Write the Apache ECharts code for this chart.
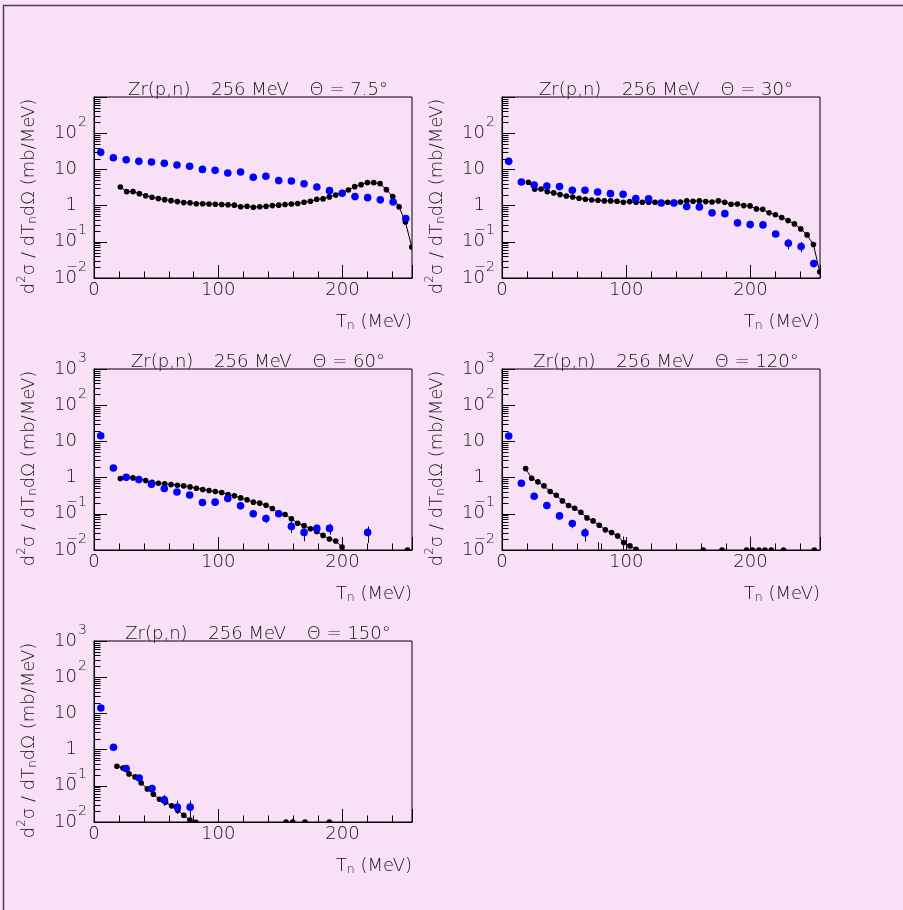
<!DOCTYPE html>
<html><head><meta charset="utf-8">
<script src="https://cdn.jsdelivr.net/npm/echarts@6/dist/echarts.min.js"></script>
<style>html,body{margin:0;padding:0;background:#f8e1f7}#c{width:903px;height:910px}</style>
</head><body><div id="c"></div>
<script>
// ---------------- DATA ----------------
const reaction = 'Zr(p,n)';
const beam = '256 MeV';
const angles = ['7.5', '30', '60', '120', '150'];
const xMajorTicks = [0, 100, 200];
const xMinorTicks = [20, 40, 60, 80, 120, 140, 160, 180, 220, 240];
const yMinorMultipliers = [2, 3, 4, 5, 6, 7, 8, 9];

// calculation grid (T_n, MeV) used at 7.5, 30, 60 deg
const tCalc = [21.2, 26.3, 31.4, 36.5, 41.6, 46.7, 51.8, 56.9, 62.0, 67.1, 72.2, 77.3, 82.4, 87.5, 92.6, 97.7,
  102.8, 107.9, 113.0, 118.1, 123.2, 128.3, 133.4, 138.5, 143.6, 148.7, 153.8, 158.9, 164.0, 169.1, 174.2,
  179.3, 184.4, 189.5, 194.6, 199.7, 204.8, 209.9, 215.0, 220.1, 225.2, 230.3, 235.4, 240.5, 245.6, 250.7, 255.8];
// experiment grid (T_n, MeV)
const tExp = [5.4, 15.6, 25.9, 36.1, 46.3, 56.6, 66.8, 77.0, 87.3, 97.5, 107.7, 118.0, 128.2, 138.4, 148.7,
  158.9, 169.1, 179.4, 189.6, 199.8, 210.1, 220.3, 230.5, 240.8, 251.0];

// 7.5 deg
const calc7 = [3.27, 2.43, 2.43, 2.14, 1.88, 1.70, 1.56, 1.46, 1.37, 1.29, 1.21, 1.19, 1.13, 1.13, 1.11, 1.09,
  1.07, 1.05, 1.03, 0.93, 0.96, 0.90, 0.93, 0.95, 1.0, 1.03, 1.07, 1.11, 1.14, 1.24, 1.32,
  1.5, 1.53, 1.74, 1.97, 2.28, 2.7, 3.34, 3.79, 4.3, 4.3, 4.04, 2.76, 1.77, 0.92, 0.355, 0.0715];
const exp7 = [29.6, 21, 18.5, 16.7, 16, 14.7, 13.2, 12.2, 10, 9.4, 7.95, 8.5, 6.05, 6.45, 4.9, 4.8, 4.0, 3.27,
  2.59, 2.19, 1.77, 1.66, 1.44, 1.26, 0.44];

// 30 deg
const calc30 = [4.41, 2.82, 2.88, 2.43, 2.24, 2.01, 1.85, 1.73, 1.59, 1.50, 1.43, 1.40, 1.35, 1.35, 1.32, 1.24,
  1.29, 1.24, 1.24, 1.24, 1.24, 1.21, 1.24, 1.24, 1.26, 1.35, 1.32, 1.35, 1.29, 1.26, 1.35,
  1.24, 1.09, 1.11, 1.0, 0.98, 0.81, 0.79, 0.63, 0.56, 0.47, 0.385, 0.312, 0.227, 0.155, 0.084, 0.0148];
const exp30 = [16.7, 4.5, 3.72, 3.49, 3.35, 2.65, 2.65, 2.38, 2.14, 2.05, 1.56, 1.53, 1.18, 1.18, 0.94, 0.92,
  0.63, 0.60, 0.333, 0.299, 0.293, 0.165, 0.091, 0.074, 0.025];
const errT30 = [230.5, 240.8];
const errLo30 = [0.062, 0.0515];
const errHi30 = [0.12, 0.10];

// 60 deg
const calc60 = [0.94, 1.0, 0.98, 0.90, 0.83, 0.74, 0.70, 0.67, 0.64, 0.615, 0.59, 0.553, 0.51, 0.47, 0.44, 0.41,
  0.386, 0.34, 0.313, 0.275, 0.243, 0.21, 0.197, 0.173, 0.14, 0.104, 0.096, 0.073, 0.055, 0.047, 0.0387,
  0.0326, 0.0253, 0.0201, 0.0177, 0.0121, 0.0075];
const expT60 = [5.4, 15.6, 25.9, 36.1, 46.3, 56.6, 66.8, 77.0, 87.3, 97.5, 107.7, 118.0, 128.2, 138.4, 148.7,
  158.9, 169.1, 179.4, 189.6, 220.3];
const exp60 = [14.3, 1.85, 1.02, 0.88, 0.656, 0.50, 0.40, 0.33, 0.205, 0.21, 0.264, 0.166, 0.10, 0.0744, 0.10,
  0.0448, 0.0306, 0.0395, 0.0395, 0.0306];
const errT60 = [128.2, 138.4, 158.9, 169.1, 179.4, 189.6, 220.3];
const errLo60 = [0.085, 0.055, 0.0294, 0.0174, 0.0294, 0.0264, 0.0156];
const errHi60 = [0.118, 0.095, 0.0615, 0.0448, 0.050, 0.053, 0.0448];
const edgeT60 = [252.4];
const edgeV60 = [0.01];

// 120 deg
const tCalc120 = [19.0, 23.9, 28.9, 33.8, 38.8, 43.7, 48.6, 53.6, 58.5, 63.5, 68.4, 73.3, 78.3, 83.2, 88.2, 93.1,
  98.0, 103.0, 107.9, 112.8];
const calc120 = [1.77, 0.96, 0.76, 0.59, 0.41, 0.325, 0.227, 0.169, 0.143, 0.110, 0.077, 0.0637, 0.0483, 0.036,
  0.0303, 0.0245, 0.0161, 0.013, 0.0105, 0.0075];
const expT120 = [5.4, 15.6, 25.9, 36.1, 46.3, 56.6, 66.8, 77.0, 97.5, 199.8];
const exp120 = [14.1, 0.70, 0.305, 0.169, 0.0875, 0.0537, 0.0297, 0.006, 0.006, 0.006];
const errT120 = [56.6, 66.8, 77.0, 97.5, 199.8];
const errLo120 = [0.040, 0.0171, 0.002, 0.002, 0.002];
const errHi120 = [0.068, 0.040, 0.0164, 0.0235, 0.0235];
const edgeT120 = [162.0, 177.1, 196.9, 201.7, 206.8, 211.7, 216.8, 226.7, 251.4];
const edgeV120 = [0.01, 0.01, 0.01, 0.01, 0.01, 0.01, 0.01, 0.01, 0.01];

// 150 deg
const tCalc150 = [18.4, 23.3, 28.2, 33.1, 38.0, 42.9, 47.8, 52.7, 57.6, 62.5, 67.4, 72.3, 77.2, 82.1, 87.0];
const calc150 = [0.347, 0.31, 0.213, 0.176, 0.12, 0.082, 0.0585, 0.0426, 0.035, 0.0279, 0.021, 0.0154, 0.0114,
  0.0098, 0.007];
const expT150 = [5.5, 15.7, 25.9, 36.4, 46.7, 56.6, 67.1, 77.4];
const exp150 = [14.1, 1.16, 0.299, 0.165, 0.084, 0.0408, 0.0257, 0.0257];
const errT150 = [36.4, 46.7, 56.6, 67.1, 77.4];
const errLo150 = [0.145, 0.0624, 0.0279, 0.0168, 0.005];
const errHi150 = [0.188, 0.106, 0.056, 0.039, 0.039];
const edgeT150 = [154.6, 160.0, 169.9, 189.5];
const edgeV150 = [0.01, 0.01, 0.01, 0.01];

// ---------------- BUILD ----------------
const panelData = [
  {cT: tCalc, cV: calc7, eT: tExp, eV: exp7, erT: [], erLo: [], erHi: [], edT: [], edV: []},
  {cT: tCalc, cV: calc30, eT: tExp, eV: exp30, erT: errT30, erLo: errLo30, erHi: errHi30, edT: [], edV: []},
  {cT: tCalc.slice(0, calc60.length), cV: calc60, eT: expT60, eV: exp60, erT: errT60, erLo: errLo60, erHi: errHi60, edT: edgeT60, edV: edgeV60},
  {cT: tCalc120, cV: calc120, eT: expT120, eV: exp120, erT: errT120, erLo: errLo120, erHi: errHi120, edT: edgeT120, edV: edgeV120},
  {cT: tCalc150, cV: calc150, eT: expT150, eV: exp150, erT: errT150, erLo: errLo150, erHi: errHi150, edT: edgeT150, edV: edgeV150}
];

const layout = [
  {left: 94, top: 97, showTop: false},
  {left: 502, top: 97, showTop: false},
  {left: 94, top: 369, showTop: true},
  {left: 502, top: 369, showTop: true},
  {left: 94, top: 641, showTop: true}
];
const W = 318, H = 181;
const FONT = '"DejaVu Sans", "Liberation Sans", sans-serif';
const FW = 300;
const TXT = '#141414';

const richY = {
  b: {fontSize: 18, lineHeight: 20, fontFamily: FONT, fontWeight: FW, color: TXT},
  s: {fontSize: 14, lineHeight: 14, width: 10, align: 'right', padding: [0, 0, 22, 0], fontFamily: FONT, fontWeight: FW, color: TXT}
};
const richName = {
  t: {fontSize: 18, lineHeight: 26, fontFamily: FONT, fontWeight: FW, color: TXT},
  p: {fontSize: 12, lineHeight: 12, padding: [0, 0, 14, 0], fontFamily: FONT, fontWeight: FW, color: TXT},
  q: {fontSize: 12, lineHeight: 12, padding: [11, 0, 3, 0], fontFamily: FONT, fontWeight: FW, color: TXT}
};

function yFmt(showTop) {
  return function (v) {
    const e = Math.round(Math.log10(v));
    if (e === 3 && !showTop) return '';
    if (e === 0) return '{b|1}{s| }';
    if (e === 1) return '{b|10}{s| }';
    return '{b|10}{s|' + String(e).replace('-', '\u2212') + '}';
  };
}

function circleRender(r, color) {
  return function (params, api) {
    const p = api.coord([api.value(0), api.value(1)]);
    return {type: 'circle', shape: {cx: p[0], cy: p[1], r: r}, style: {fill: color}};
  };
}
function errRender(params, api) {
  const a = api.coord([api.value(0), api.value(1)]);
  const b = api.coord([api.value(0), api.value(2)]);
  const x = Math.round(a[0]) + 0.5;
  return {type: 'line', shape: {x1: x, y1: a[1], x2: x, y2: b[1]}, style: {stroke: '#111', lineWidth: 1}};
}
function yTickRender(params, api) {
  const p = api.coord([api.value(0), api.value(1)]);
  const y = Math.round(p[1]) + 0.5;
  return {type: 'line', shape: {x1: p[0], y1: y, x2: p[0] + 6.5, y2: y}, style: {stroke: '#000', lineWidth: 1}};
}
function xTickRender(params, api) {
  const p = api.coord([api.value(0), api.value(1)]);
  const x = Math.round(p[0]) + 0.5;
  return {type: 'line', shape: {x1: x, y1: p[1], x2: x, y2: p[1] - 6.5}, style: {stroke: '#000', lineWidth: 1}};
}

const yMinorData = [];
for (let e = -2; e < 3; e++) yMinorMultipliers.forEach(m => yMinorData.push([0, +(m * Math.pow(10, e)).toPrecision(3)]));
const xMinorData = xMinorTicks.map(t => [t, 0.01]);

const GAP = '   \u2009';
const grids = [], xAxes = [], yAxes = [], titles = [], series = [];
layout.forEach((L, i) => {
  const D = panelData[i];
  grids.push({left: L.left, top: L.top, width: W, height: H, show: true, borderColor: '#000', borderWidth: 1, backgroundColor: 'transparent', containLabel: false});
  titles.push({
    text: reaction + GAP + beam + GAP + '\u0398 = ' + angles[i] + '\u00b0',
    left: L.left + W / 2, top: L.top - 21, textAlign: 'center',
    textStyle: {fontSize: 18, fontWeight: FW, color: TXT, fontFamily: FONT}
  });
  xAxes.push({
    gridIndex: i, type: 'value', min: 0, max: 256, interval: 100,
    axisLine: {show: true, onZero: false, lineStyle: {color: '#000', width: 1}},
    axisTick: {show: true, inside: true, length: 13, lineStyle: {color: '#000', width: 1}},
    axisLabel: {margin: 3, fontSize: 18, color: TXT, fontFamily: FONT, fontWeight: FW,
      formatter: v => (xMajorTicks.indexOf(v) >= 0 ? String(v) : '')},
    splitLine: {show: false},
    name: '{t|T}{q|n}{t| (MeV)}', nameLocation: 'end', nameGap: 0,
    nameTextStyle: {align: 'right', verticalAlign: 'top', padding: [31, 0, 0, 0], rich: richName}
  });
  yAxes.push({
    gridIndex: i, type: 'log', logBase: 10, min: 0.01, max: 1000,
    axisLine: {show: true, lineStyle: {color: '#000', width: 1}},
    axisTick: {show: true, inside: true, length: 13, lineStyle: {color: '#000', width: 1}},
    axisLabel: {margin: 7, formatter: yFmt(L.showTop), rich: richY},
    splitLine: {show: false}, minorTick: {show: false},
    name: '{t|d}{p|2}{t|\u03c3 / dT}{q|n}{t|d\u03a9 (mb/MeV)}', nameLocation: 'middle', nameRotate: 90, nameGap: 52,
    nameTextStyle: {padding: [0, 18, 0, 0], rich: richName}
  });
  const calcPts = D.cT.map((t, k) => [t, D.cV[k]]);
  series.push({type: 'line', xAxisIndex: i, yAxisIndex: i, data: calcPts, showSymbol: false, symbol: 'none',
    lineStyle: {color: '#000', width: 1}, clip: true, z: 2, silent: true, animation: false});
  series.push({type: 'custom', xAxisIndex: i, yAxisIndex: i, data: D.erT.map((t, k) => [t, D.erLo[k], D.erHi[k]]),
    renderItem: errRender, clip: true, z: 3, silent: true, encode: {x: 0, y: [1, 2]}});
  series.push({type: 'custom', xAxisIndex: i, yAxisIndex: i,
    data: calcPts.concat(D.edT.map((t, k) => [t, D.edV[k]])),
    renderItem: circleRender(2.8, '#000'), clip: true, z: 4, silent: true, encode: {x: 0, y: 1}});
  series.push({type: 'custom', xAxisIndex: i, yAxisIndex: i, data: D.eT.map((t, k) => [t, D.eV[k]]),
    renderItem: circleRender(3.8, '#0000ff'), clip: true, z: 5, silent: true, encode: {x: 0, y: 1}});
  series.push({type: 'custom', xAxisIndex: i, yAxisIndex: i, data: yMinorData, renderItem: yTickRender,
    clip: false, z: 6, silent: true, encode: {x: 0, y: 1}});
  series.push({type: 'custom', xAxisIndex: i, yAxisIndex: i, data: xMinorData, renderItem: xTickRender,
    clip: false, z: 6, silent: true, encode: {x: 0, y: 1}});
});

const chart = echarts.init(document.getElementById('c'), null, {renderer: 'canvas'});
chart.setOption({
  backgroundColor: '#f8e1f7',
  animation: false,
  title: titles,
  grid: grids,
  xAxis: xAxes,
  yAxis: yAxes,
  series: series,
  graphic: [{type: 'polyline', shape: {points: [[3.5, 910], [3.5, 5.5], [903, 5.5]]},
    style: {stroke: '#4b3f4f', lineWidth: 1.5, fill: null}, silent: true}]
});
</script></body></html>
